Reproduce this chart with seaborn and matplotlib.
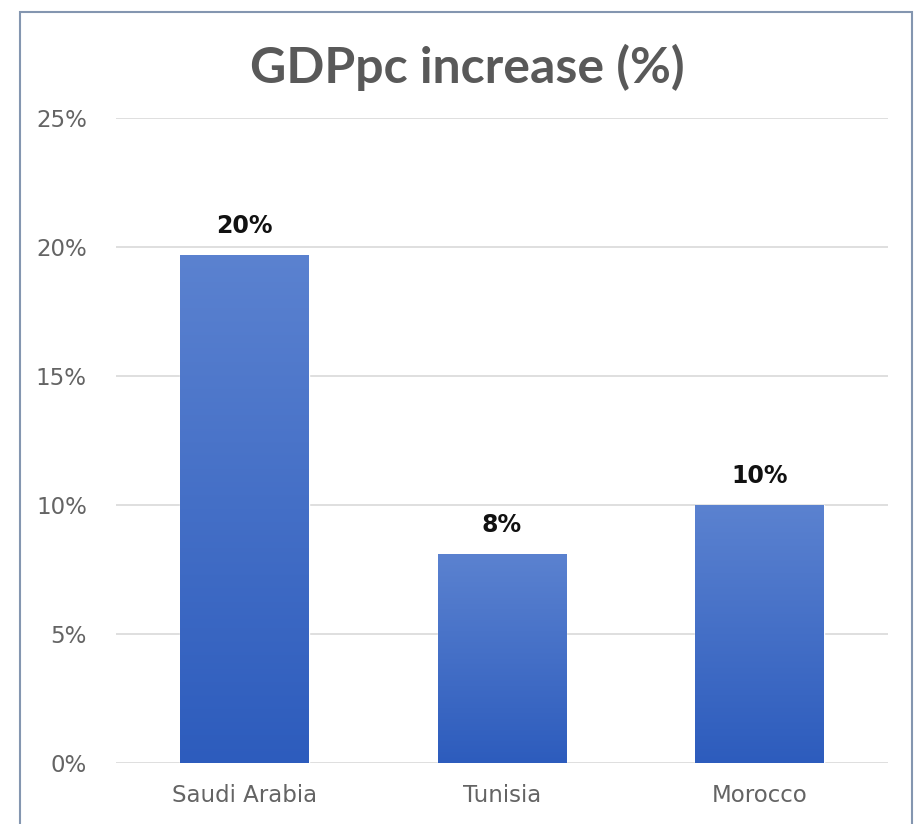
import numpy as np
import pandas as pd
import matplotlib
matplotlib.use("Agg")
import matplotlib.pyplot as plt
import seaborn as sns
from matplotlib.colors import LinearSegmentedColormap
from matplotlib.patches import Rectangle

countries = ["Saudi Arabia", "Tunisia", "Morocco"]
values = [19.7, 8.1, 10.0]
value_labels = ["20%", "8%", "10%"]
yticks = [0, 5, 10, 15, 20, 25]
ytick_labels = ["0%", "5%", "10%", "15%", "20%", "25%"]
title = "GDPpc increase (%)"

sns.set_theme(style="white")
plt.rcParams['font.family'] = ['DejaVu Sans']

df = pd.DataFrame({"country": countries, "value": values})

fig = plt.figure(figsize=(9.2, 8.24), dpi=100)
fig.patch.set_facecolor("white")
ax = fig.add_axes([116/920, 61/824, 772/920, 645/824])

sns.barplot(data=df, x="country", y="value", color="#3f6cc9", width=0.5,
            saturation=1, ax=ax, zorder=3)

ax.set_ylim(0, 25)
ax.set_xlim(-0.5, 2.5)
ax.set_yticks(yticks)
ax.set_yticklabels(ytick_labels)
ax.yaxis.grid(True, color="#d9d9d9", linewidth=1.2, zorder=0)
ax.set_axisbelow(True)
for s in ax.spines.values():
    s.set_visible(False)
ax.set_xlabel("")
ax.set_ylabel("")
ax.tick_params(axis="both", length=0, labelsize=16.5, colors="#646464")
ax.tick_params(axis="x", pad=15)
ax.tick_params(axis="y", pad=21)

# gradient fill
cmap = LinearSegmentedColormap.from_list("g", ["#2d5cbd", "#5b82d0"])
grad = np.linspace(0, 1, 256).reshape(-1, 1)
for p in ax.patches:
    x0, y0 = p.get_x(), p.get_y()
    w, h = p.get_width(), p.get_height()
    im = ax.imshow(grad, cmap=cmap, origin="lower", aspect="auto",
                   extent=[x0, x0 + w, y0, y0 + h], zorder=4)
    im.set_clip_path(p)
ax.set_xlim(-0.5, 2.5)
ax.set_ylim(0, 25)

for i, (v, lab) in enumerate(zip(values, value_labels)):
    ax.text(i, v + 0.85, lab, ha="center", va="baseline", fontsize=17,
            fontweight="bold", color="#111111", zorder=5)

fig.text(467/920, 1 - 83/824, title, ha="center", va="baseline",
         fontsize=36, fontweight="bold", color="#595959",
         family=["Lato", "DejaVu Sans"])

fig.patches.append(Rectangle((20/920, -0.01), 892/920, 1 - 12/824 + 0.01,
                             transform=fig.transFigure, fill=False,
                             edgecolor="#8496b0", linewidth=1.5))

fig.savefig("out.png", dpi=100)
